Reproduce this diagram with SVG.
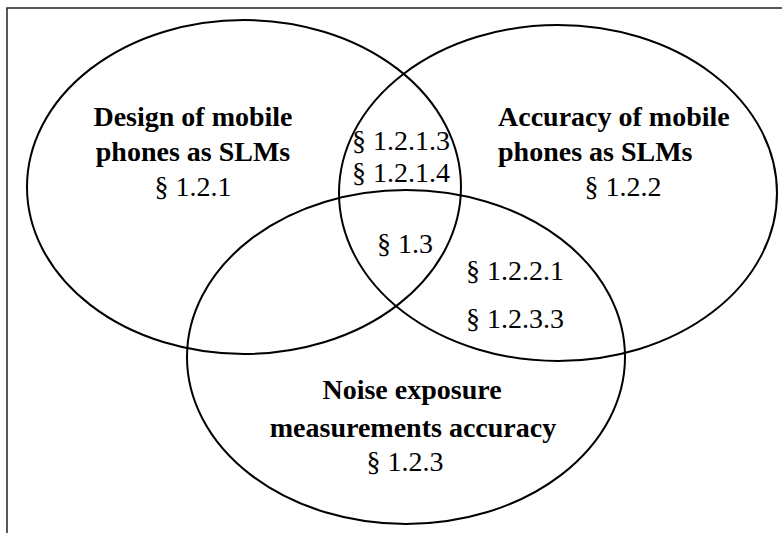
<svg xmlns="http://www.w3.org/2000/svg" width="782" height="533" viewBox="0 0 782 533">
<style>
.frame{fill:none;stroke:#222;stroke-width:1.5}
.set{fill:none;stroke:#000;stroke-width:2}
.t{font-family:"Liberation Serif","Times New Roman",serif;font-size:28px;fill:#000}
.b{font-weight:bold}
.c{text-anchor:middle}
</style>
<rect width="782" height="533" fill="#fff"/>
<path class="frame" d="M7,533 V8 H782"/>
<g id="set-design">
<ellipse class="set" cx="244" cy="187" rx="217" ry="167"/>
<text class="t b c" x="193" y="126">Design of mobile</text>
<text class="t b c" x="193" y="161">phones as SLMs</text>
<text class="t c" x="193" y="196">§ 1.2.1</text>
</g>
<g id="set-accuracy">
<ellipse class="set" cx="558" cy="193" rx="219" ry="168"/>
<text class="t b" x="498" y="126">Accuracy of mobile</text>
<text class="t b" x="498" y="161">phones as SLMs</text>
<text class="t c" x="623" y="196">§ 1.2.2</text>
</g>
<g id="set-noise">
<ellipse class="set" cx="406" cy="357" rx="219" ry="167"/>
<text class="t b c" x="412" y="399">Noise exposure</text>
<text class="t b c" x="413" y="437">measurements accuracy</text>
<text class="t c" x="405" y="471">§ 1.2.3</text>
</g>
<g id="overlaps">
<text class="t" x="352" y="150">§ 1.2.1.3</text>
<text class="t" x="352" y="182">§ 1.2.1.4</text>
<text class="t c" x="405" y="253">§ 1.3</text>
<text class="t" x="466" y="280">§ 1.2.2.1</text>
<text class="t" x="466" y="328">§ 1.2.3.3</text>
</g>
<g id="connectors"/>
</svg>
